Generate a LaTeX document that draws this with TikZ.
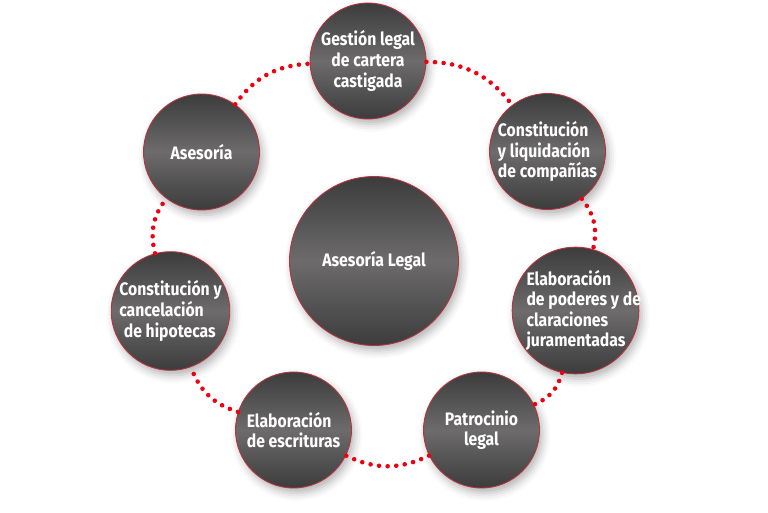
\documentclass[tikz,border=0pt]{standalone}
\usepackage{fontspec}
\setmainfont{Fira Sans}[FakeStretch=0.87]
\usetikzlibrary{shadows.blur}

\definecolor{grisOscuro}{HTML}{3C3C3C}
\definecolor{grisClaro}{HTML}{6D6B6B}
\definecolor{rojoBorde}{HTML}{B8323E}
\definecolor{rojoPunto}{HTML}{EE0010}

\begin{document}
\begin{tikzpicture}[x=0.02cm, y=0.02cm, line join=round, line cap=round,
	font=\bfseries\fontsize{10.3}{11.7}\selectfont,
	bola/.style={circle, draw=rojoBorde, line width=0.5pt, top color=grisOscuro, bottom color=grisOscuro, middle color=grisClaro, text=white, inner sep=0pt, minimum size=2.32cm, blur shadow={shadow xshift=0.6mm, shadow yshift=-1mm, shadow blur radius=1.6mm, shadow opacity=30}},
	punteado/.style={rojoPunto, line width=2.6pt, dash pattern=on 0pt off 4.9pt}]
	\useasboundingbox (0,0) rectangle (768,512);

	% Círculo central
	\node[bola, minimum size=3.38cm] (L) at (374,251) {Asesoría Legal};

	% Círculos exteriores
	\node[bola, align=center] (G) at (368,451) {Gestión legal\\de cartera\\castigada};
	\node[bola, align=left] (C) at (547.5,360.5) {Constitución\\y liquidación\\de compañías};
	\node[bola, align=flush left, text width=1.96cm] (E) at (575.5,201.5) {Elaboración\\\mbox{de poderes y de}\\claraciones\\juramentadas};
	\node[bola, align=center] (P) at (481.5,82) {Patrocinio\\legal};
	\node[bola, align=left] (S) at (293.5,82) {Elaboración\\de escrituras};
	\node[bola, align=left] (H) at (170.5,201) {Constitución y\\cancelación\\\hspace*{0.25em}de hipotecas};
	\node[bola] (A) at (201.5,360) {Asesoría};

	% Uniones punteadas
	\foreach \a/\b in {G/C, C/E, E/P, P/S, S/H, H/A, A/G}
		\draw[punteado] (\a) to[bend left=26] (\b);
\end{tikzpicture}
\end{document}
